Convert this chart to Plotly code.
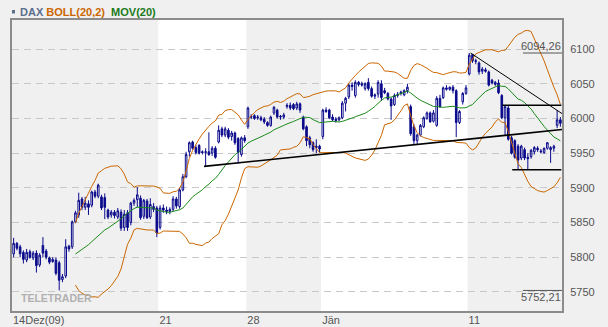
import plotly.graph_objects as go
import pandas as pd

# ---------------- data (hourly DAX bars, 14 Dec 2009 - 14 Jan 2010) ----------------
opens = [5805, 5820, 5815, 5807, 5796, 5808, 5799, 5806, 5789,
         5817, 5809, 5799, 5794, 5796, 5792, 5768, 5773, 5816,
         5815, 5851, 5861, 5884, 5872, 5877, 5875, 5894, 5888,
         5887, 5886, 5868, 5861, 5865, 5858, 5865, 5843, 5864,
         5850, 5878, 5883, 5885, 5859, 5881, 5858, 5873, 5871,
         5843, 5871, 5868, 5866, 5869, 5884, 5873, 5897, 5916,
         5952, 5966, 5958, 5961, 5952, 5951, 5952, 5950, 5957,
         5966, 5985, 5976, 5983, 5974, 5979, 5971, 5948, 5972,
         5988, 6003, 6004, 6001, 6001, 5999, 5994, 5990, 6008,
         6012, 6002, 6002, 6017, 6019, 6020, 6015, 6021, 6002,
         5988, 5972, 5965, 5958, 5960,
         5974, 6012, 6012, 6002, 5999, 5998, 6001, 6022, 6031,
         6048, 6033, 6052, 6050, 6043, 6052, 6043, 6032, 6035,
         6050, 6040, 6036, 6028, 6020, 6033, 6036, 6034, 6040,
         6017, 5988, 5968, 5976, 5988, 6000, 6008, 5996, 5990,
         6029, 6030, 6044, 6042, 6045, 6040, 5994, 6024, 6036,
         6064, 6092, 6082, 6080, 6068, 6070, 6067, 6055, 6049,
         6051, 6033, 6001, 6015, 5972, 5968, 5960, 5943, 5955,
         5944, 5945, 5952, 5957, 5953, 5951, 5957, 5955, 5957,
         5990, 5998]
highs = [5828, 5822, 5818, 5810, 5812, 5811, 5809, 5810, 5806,
         5829, 5812, 5801, 5800, 5800, 5795, 5776, 5826, 5818,
         5853, 5867, 5893, 5887, 5887, 5882, 5896, 5897, 5906,
         5890, 5892, 5870, 5868, 5868, 5871, 5869, 5868, 5868,
         5880, 5885, 5901, 5889, 5884, 5884, 5885, 5878, 5874,
         5875, 5876, 5873, 5872, 5888, 5887, 5900, 5920, 5952,
         5967, 5968, 5962, 5963, 5954, 5957, 5980, 5960, 5960,
         5990, 5988, 5988, 5986, 5982, 5981, 5973, 5974, 5976,
         6017, 6006, 6006, 6005, 6004, 6002, 5996, 6004, 6018,
         6014, 6005, 6008, 6022, 6023, 6022, 6024, 6023, 6004,
         5990, 5975, 5967, 5970, 5962,
         6014, 6016, 6014, 6006, 6002, 6003, 6025, 6031, 6050,
         6052, 6055, 6054, 6053, 6052, 6058, 6046, 6036, 6055,
         6055, 6044, 6038, 6030, 6036, 6038, 6040, 6042, 6050,
         6020, 5992, 5978, 5992, 6003, 6010, 6010, 6012, 6032,
         6034, 6046, 6048, 6046, 6048, 6042, 6012, 6038, 6048,
         6094.26, 6093, 6086, 6082, 6074, 6073, 6069, 6057, 6054,
         6056, 6035, 6019, 6018, 5975, 5970, 5963, 5962, 5958,
         5950, 5956, 5960, 5960, 5956, 5958, 5966, 5960, 5962,
         6012, 6002]
lows = [5800, 5810, 5800, 5791, 5793, 5798, 5796, 5778, 5786,
        5800, 5797, 5790, 5792, 5774, 5752.21, 5764, 5770, 5808,
        5812, 5849, 5857, 5868, 5868, 5861, 5872, 5885, 5885,
        5868, 5855, 5855, 5857, 5856, 5855, 5838, 5838, 5838,
        5846, 5874, 5872, 5854, 5855, 5855, 5855, 5865, 5829,
        5840, 5864, 5862, 5862, 5866, 5870, 5870, 5895, 5914,
        5945, 5955, 5948, 5948, 5948, 5931, 5946, 5946, 5942,
        5964, 5973, 5973, 5970, 5968, 5962, 5935, 5945, 5965,
        5985, 5999, 5998, 5998, 5996, 5992, 5988, 5988, 6005,
        6000, 5998, 5999, 6014, 6012, 6012, 6012, 6008, 5983,
        5960, 5957, 5952, 5950, 5951,
        5970, 6008, 5999, 5996, 5994, 5996, 5999, 6010, 6028,
        6040, 6030, 6046, 6046, 6040, 6040, 6030, 6028, 6030,
        6025, 6035, 6026, 5998, 6018, 6030, 6033, 6032, 6036,
        5975, 5962, 5962, 5974, 5986, 5998, 5994, 5994, 5988,
        6015, 6028, 6040, 6040, 6036, 5973, 5992, 6020, 6034,
        6062, 6080, 6078, 6063, 6064, 6066, 6046, 6049, 6047,
        6035, 5999, 5976, 5968, 5948, 5942, 5926, 5940, 5940,
        5926, 5942, 5948, 5952, 5950, 5949, 5955, 5936, 5952,
        5986, 5988]
closes = [5820, 5813, 5805, 5797, 5807, 5800, 5806, 5788, 5803,
          5806, 5800, 5793, 5797, 5777, 5767, 5772, 5815, 5812,
          5851, 5864, 5882, 5872, 5878, 5872, 5894, 5888, 5904,
          5871, 5872, 5858, 5865, 5860, 5867, 5842, 5862, 5843,
          5878, 5882, 5890, 5857, 5882, 5857, 5876, 5869, 5835,
          5871, 5868, 5866, 5869, 5884, 5874, 5897, 5916, 5948,
          5965, 5957, 5951, 5950, 5951, 5952, 5948, 5957, 5944,
          5983, 5976, 5985, 5973, 5979, 5965, 5951, 5972, 5968,
          6015, 6002, 6000, 6002, 5998, 5995, 5990, 6002, 6016,
          6002, 6003, 6005, 6019, 6015, 6014, 6021, 6012, 5985,
          5968, 5962, 5955, 5960, 5956,
          6012, 6010, 6001, 5998, 5997, 6001, 6022, 6029, 6048,
          6046, 6052, 6049, 6048, 6050, 6043, 6032, 6034, 6052,
          6030, 6037, 6028, 6018, 6033, 6035, 6038, 6040, 6045,
          5978, 5968, 5976, 5990, 6001, 6008, 5995, 6008, 6029,
          6017, 6044, 6042, 6045, 6040, 5994, 6010, 6036, 6044,
          6091, 6083, 6083, 6067, 6071, 6068, 6048, 6051, 6052,
          6037, 6001, 6017, 5970, 5950, 5944, 5940, 5960, 5943,
          5942, 5954, 5958, 5955, 5952, 5957, 5965, 5958, 5960,
          5998, 5993]

week_start_bars = [0, 45, 72, 95, 140]
week_labels = ["14Dez(09)", "21", "28", "Jän", "11"]
y_tick_values = [5750, 5800, 5850, 5900, 5950, 6000, 6050, 6100]

# analyst drawings (bar index, price)
support_x, support_y = [58.5, 168.5], [5931, 5984]
resist_x, resist_y = [140.4, 168.5], [6094.26, 6007]
box_top_x, box_top_y = [150.1, 168.3], [6019, 6019]
box_bot_x, box_bot_y = [153.2, 168.3], [5926, 5926]

# ---------------- indicators ----------------
n = len(closes)
xs = list(range(n))
s = pd.Series(closes, dtype=float)
ma = s.rolling(20).mean()
sd = s.rolling(20).std(ddof=0)
upper = ma + 2 * sd
lower = ma - 2 * sd

NAVY = "#0a0a8c"
ORANGE = "#cc6600"
GREEN = "#1a8a1a"
FONT = "Liberation Sans, Arial, sans-serif"

fig = go.Figure()
fig.add_trace(go.Candlestick(
    x=xs, open=opens, high=highs, low=lows, close=closes,
    increasing=dict(line=dict(color=NAVY, width=1), fillcolor="rgba(255,255,255,0)"),
    decreasing=dict(line=dict(color=NAVY, width=1), fillcolor=NAVY),
    whiskerwidth=0, showlegend=False, hoverinfo="skip"))
fig.add_trace(go.Scatter(x=xs, y=upper, mode="lines", line=dict(color=ORANGE, width=1),
                         showlegend=False, hoverinfo="skip"))
fig.add_trace(go.Scatter(x=xs, y=lower, mode="lines", line=dict(color=ORANGE, width=1),
                         showlegend=False, hoverinfo="skip"))
fig.add_trace(go.Scatter(x=xs, y=ma, mode="lines", line=dict(color=GREEN, width=1),
                         showlegend=False, hoverinfo="skip"))
for lx, ly, w in [(support_x, support_y, 1.6), (resist_x, resist_y, 1),
                  (box_top_x, box_top_y, 1.6), (box_bot_x, box_bot_y, 1.6)]:
    fig.add_trace(go.Scatter(x=lx, y=ly, mode="lines", line=dict(color="black", width=w),
                             showlegend=False, hoverinfo="skip"))

# week background bands
bounds = [b - 0.5 for b in week_start_bars] + [n - 0.5]
shapes = []
for k in range(len(week_start_bars)):
    shapes.append(dict(type="rect", xref="x", yref="paper", x0=bounds[k], x1=bounds[k + 1],
                       y0=0, y1=1, layer="below", line=dict(width=0),
                       fillcolor="#f0f0f0" if k % 2 == 0 else "#ffffff"))

max_v, min_v = max(highs), min(lows)
lab_w = 39 / 550
shapes.append(dict(type="line", xref="paper", yref="y", x0=1 - lab_w, x1=1, y0=max_v, y1=max_v,
                   line=dict(color="#555555", width=1)))
shapes.append(dict(type="line", xref="paper", yref="y", x0=1 - lab_w, x1=1, y0=min_v, y1=min_v,
                   line=dict(color="#555555", width=1)))
# title bullet
shapes.append(dict(type="rect", xref="paper", yref="paper", x0=0.0, x1=3 / 550,
                   y0=(311 - 13.5) / 291, y1=(311 - 10) / 291, fillcolor="#5a6e8c",
                   line=dict(width=0)))

fmt = lambda v: f"{v:.2f}".replace(".", ",")
annotations = [
    dict(xref="paper", yref="y", x=1, y=max_v, xanchor="right", yanchor="bottom",
         text=fmt(max_v), showarrow=False, font=dict(size=11, color="#555555", family=FONT),
         borderpad=0),
    dict(xref="paper", yref="y", x=1, y=min_v, xanchor="right", yanchor="top",
         text=fmt(min_v), showarrow=False, font=dict(size=11, color="#555555", family=FONT),
         borderpad=0),
    dict(xref="paper", yref="paper", x=7 / 550, y=(311 - 12) / 291, xanchor="left",
         yanchor="middle", showarrow=False, borderpad=0,
         font=dict(size=11, family=FONT),
         text=("<b><span style='color:#5a6e8c'>DAX</span> "
               "<span style='color:#cc6600'>BOLL(20,2)</span>&nbsp;&nbsp;"
               "<span style='color:#1a7a1a'>MOV(20)</span></b>")),
    dict(xref="paper", yref="paper", x=8 / 550, y=(311 - 298) / 291, xanchor="left",
         yanchor="middle", showarrow=False, borderpad=0, text="<b>TELETRADER</b>",
         font=dict(size=10.5, color="#b0b0b0", family=FONT)),
]

fig.update_layout(
    width=608, height=327,
    margin=dict(l=12, r=46, t=20, b=16, autoexpand=False),
    paper_bgcolor="#f0f0f0", plot_bgcolor="#ffffff",
    font=dict(family=FONT, size=11, color="#555555"),
    shapes=shapes, annotations=annotations,
    xaxis=dict(range=[-0.5, n - 0.5], rangeslider=dict(visible=False), showgrid=False,
               zeroline=False, tickmode="array", tickvals=bounds[:-1], ticktext=week_labels,
               ticklabelposition="outside right", ticks="", showline=True, automargin=False,
               ticklabelstandoff=-2,
               linecolor="#8c8c8c", linewidth=2, mirror=True,
               tickfont=dict(size=11, color="#555555")),
    yaxis=dict(side="right", range=[5722.6, 6141.8], tickmode="array", automargin=False,
               tickvals=y_tick_values, showgrid=True, gridcolor="#c8c8c8", gridwidth=1,
               griddash="7px,5px", zeroline=False, ticks="", ticklabelstandoff=4,
               showline=True, linecolor="#8c8c8c", linewidth=2, mirror=True,
               tickfont=dict(size=11, color="#555555")),
)

fig.write_html("out.html")
